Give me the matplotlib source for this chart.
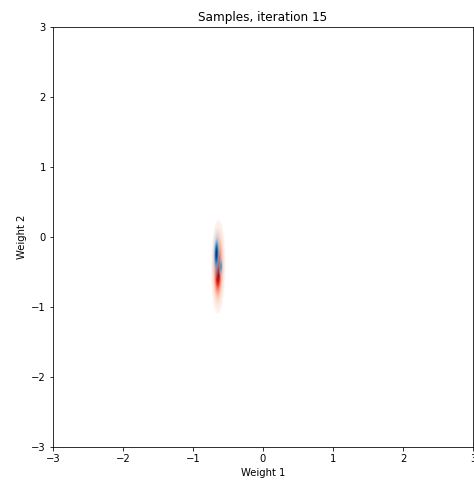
import numpy as np
import matplotlib
matplotlib.use('Agg')
import matplotlib.pyplot as plt

# posterior sample clouds: (mean x, mean y, std x, std y, correlation)
red_params = [-0.64, -0.42, 0.04, 0.26, 0.05]
red_core = [-0.645, -0.5, 0.025, 0.17, 0.1]
blue_params = [-0.665, -0.24, 0.02, 0.13, 0.15]
blue_streak = [-0.60, -0.42, 0.012, 0.07, 0.0]

xlim = [-3, 3]
ylim = [-3, 3]
ticks = [-3, -2, -1, 0, 1, 2, 3]


def density(p, X, Y):
    mx, my, sx, sy, r = p
    dx = (X - mx) / sx
    dy = (Y - my) / sy
    z = (dx**2 - 2*r*dx*dy + dy**2) / (1 - r**2)
    return np.exp(-0.5*z)


def rgba_layer(d, cmap):
    d = np.clip(d, 0, 1)
    img = plt.get_cmap(cmap)(0.2 + 0.8*d)
    img[..., 3] = np.clip(np.sqrt(d) * 1.3, 0, 1) * (d > 0.02)
    return img


x = np.linspace(-3, 3, 1200)
y = np.linspace(-3, 3, 1200)
X, Y = np.meshgrid(x, y)

fig = plt.figure(figsize=(474/72, 484/72), dpi=72)
ax = fig.add_axes([53/474, 37/484, 420/474, 420/484])

red = 0.55*density(red_params, X, Y) + 0.45*density(red_core, X, Y)
blue = density(blue_params, X, Y) + 0.6*density(blue_streak, X, Y)

ax.imshow(rgba_layer(red, 'Reds'), extent=[-3, 3, -3, 3], origin='lower',
          interpolation='bilinear', aspect='auto')
ax.imshow(rgba_layer(blue, 'Blues'), extent=[-3, 3, -3, 3], origin='lower',
          interpolation='bilinear', aspect='auto')

ax.set_xlim(xlim)
ax.set_ylim(ylim)
ax.set_xticks(ticks)
ax.set_yticks(ticks)
ax.set_xlabel('Weight 1')
ax.set_ylabel('Weight 2')
ax.set_title('Samples, iteration 15')

fig.savefig('out.png', dpi=72)
